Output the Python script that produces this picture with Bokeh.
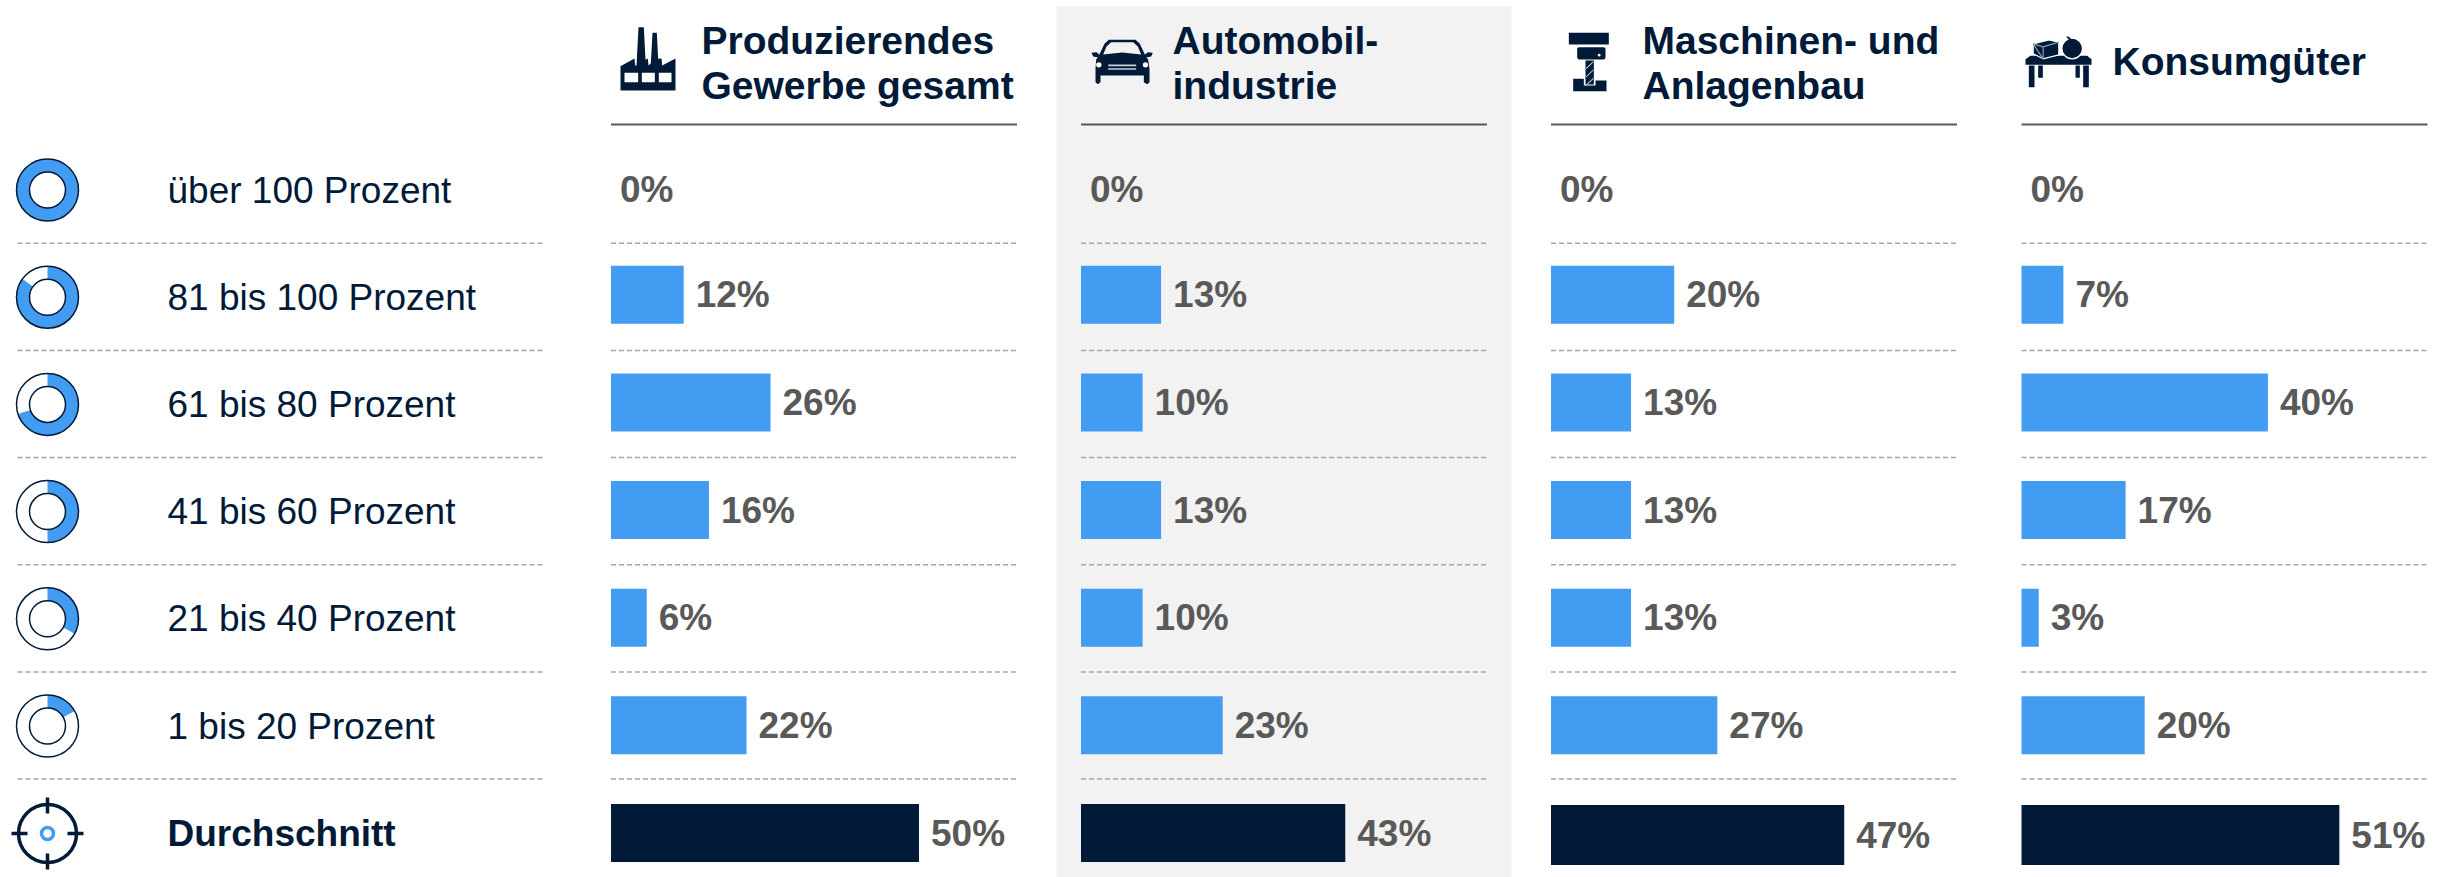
from bokeh.plotting import figure
from bokeh.embed import file_html
from bokeh.resources import INLINE
from bokeh.core.properties import value
from math import pi

# ---------- data ----------
row_labels = ["über 100 Prozent", "81 bis 100 Prozent", "61 bis 80 Prozent", "41 bis 60 Prozent",
              "21 bis 40 Prozent", "1 bis 20 Prozent", "Durchschnitt"]
# printed labels
produzierendes = [0, 12, 26, 16, 6, 22, 50]
automobil = [0, 13, 10, 13, 10, 23, 43]
maschinen = [0, 20, 13, 13, 13, 27, 47]
konsum = [0, 7, 40, 17, 3, 20, 51]
# bar lengths (the printed labels are rounded)
produzierendes_bar = [0, 11.8, 25.9, 15.9, 5.8, 22, 50]
automobil_bar = [0, 13, 10, 13, 10, 23, 42.9]
maschinen_bar = [0, 20, 13, 13, 13, 27, 47.6]
konsum_bar = [0, 6.8, 40, 16.9, 2.8, 20, 51.6]
headers = [["Produzierendes", "Gewerbe gesamt"], ["Automobil-", "industrie"],
           ["Maschinen- und", "Anlagenbau"], ["Konsumgüter"]]
legend_fill = [100, 85, 70, 50, 33, 17]

# ---------- layout ----------
NAVY = "#001a38"
BLUE = "#429df2"
GREY = "#595959"
DASH = "#a6a6a6"
FONT = value("Liberation Sans")
PX_PER_PCT = 6.16
col_x = [610.5, 1080.5, 1550.5, 2021]
col_w = 406
head_x = [701, 1172, 1642, 2112]
row_y = [189.5 + 107.2 * i for i in range(7)]
label_y = [190 + 107.1 * i for i in range(7)]
bar_y = [832.5 - 107.65 * (6 - i) for i in range(7)]
divider_y = [242.8 + 107.15 * i for i in range(6)]
BAR_H = 58

p = figure(width=2450, height=877, x_range=(0, 2450), y_range=(877, 0),
           output_backend="svg", toolbar_location=None, min_border=0,
           x_axis_location=None, y_axis_location=None, outline_line_color=None,
           background_fill_color="white", border_fill_color="white")
p.xgrid.visible = False
p.ygrid.visible = False

# grey highlight column
p.quad(left=[1056], right=[1511], top=[6], bottom=[877], fill_color="#f2f2f2", line_color=None)

# dashed separators + header rules
for y in divider_y:
    for x0, x1 in [(17, 545)] + [(c, c + col_w) for c in col_x]:
        p.line([x0, x1], [y, y], line_color=DASH, line_width=1.5, line_dash="5 3")
for c in col_x:
    p.line([c, c + col_w], [124, 124], line_color=GREY, line_width=2)

# row labels
for i, lab in enumerate(row_labels):
    p.text([167], [label_y[i]], text=[lab], text_font=FONT, text_font_size="37px",
           text_color=NAVY, text_baseline="middle", text_align="left",
           text_font_style="bold" if i == 6 else "normal")

# bars and value labels
columns = [(produzierendes, produzierendes_bar), (automobil, automobil_bar),
           (maschinen, maschinen_bar), (konsum, konsum_bar)]
for k, (c, (vals, lens)) in enumerate(zip(col_x, columns)):
    for i, (v, ln) in enumerate(zip(vals, lens)):
        right = c + ln * PX_PER_PCT
        yc = bar_y[i]
        h = BAR_H
        if i == 6 and k >= 2:
            yc += 2
            h = 60
        if v > 0:
            p.quad(left=[c], right=[right], top=[yc - h / 2], bottom=[yc + h / 2],
                   fill_color=NAVY if i == 6 else BLUE, line_color=None)
        ty = 188.5 if i == 0 else yc
        p.text([right + (12 if v > 0 else 9)], [ty], text=[f"{v}%"], text_font=FONT,
               text_font_size="37px", text_font_style="bold", text_color=GREY,
               text_baseline="middle", text_align="left")

# header text
for hx, lines in zip(head_x, headers):
    ys = [40, 85] if len(lines) == 2 else [61]
    for y, t in zip(ys, lines):
        p.text([hx], [y], text=[t], text_font=FONT, text_font_size="39px", text_font_style="bold",
               text_color=NAVY, text_baseline="middle", text_align="left")

# legend donuts
DX = 47
for i, f in enumerate(legend_fill):
    y = row_y[i]
    p.annular_wedge([DX], [y], inner_radius=18, outer_radius=31,
                    start_angle=pi / 2 - 2 * pi * f / 100 if f < 100 else 0,
                    end_angle=pi / 2 if f < 100 else 2 * pi,
                    fill_color=BLUE, line_color=None)
    p.circle([DX], [y], radius=31, fill_color=None, line_color=NAVY, line_width=1.5)
    p.circle([DX], [y], radius=18, fill_color=None, line_color=NAVY, line_width=1.5)

# crosshair icon
cy = 833
p.circle([DX], [cy], radius=29, fill_color=None, line_color=NAVY, line_width=3.5)
p.circle([DX], [cy], radius=6, fill_color="white", line_color=BLUE, line_width=3.5)
for xs, ys in [([DX - 36, DX - 20], [cy, cy]), ([DX + 20, DX + 36], [cy, cy]),
               ([DX, DX], [cy - 36, cy - 20]), ([DX, DX], [cy + 20, cy + 36])]:
    p.line(xs, ys, line_color=NAVY, line_width=3.5)

# header icons, drawn as shapes in local units of a third of a pixel
def poly(ox, oy, pts, color=NAVY, line=None):
    p.patch([ox + a / 3 for a, b in pts], [oy + b / 3 for a, b in pts], fill_color=color,
            line_color=line, line_width=1.2)

def box(ox, oy, x0, y0, x1, y1, color=NAVY):
    poly(ox, oy, [(x0, y0), (x1, y0), (x1, y1), (x0, y1)], color)

def disc(ox, oy, x, y, r, color=NAVY, line=None):
    p.circle([ox + x / 3], [oy + y / 3], radius=r / 3, fill_color=color, line_color=line, line_width=1.2)

# factory
o = (610, 20)
poly(*o, [(30, 210), (30, 137), (72, 114), (74, 135), (78, 135), (84, 20), (100, 20), (105, 118),
          (112, 114), (114, 135), (121, 128), (126, 37), (139, 37), (143, 115), (153, 114), (155, 135),
          (195, 114), (195, 210)])
for x0, x1 in [(42, 83), (94, 133), (145, 183)]:
    box(*o, x0, 157, x1, 185, "white")

# car
o = (1080, 20)
BG = "#f2f2f2"
poly(*o, [(85, 58), (165, 58), (178, 70), (192, 100), (203, 118), (207, 145), (207, 185), (200, 191),
          (190, 185), (190, 165), (60, 165), (60, 185), (52, 191), (45, 185), (45, 145), (47, 118),
          (58, 100), (72, 70)])
poly(*o, [(92, 65), (158, 65), (172, 78), (182, 102), (125, 96), (68, 102), (78, 78)], BG)
poly(*o, [(33, 97), (48, 95), (60, 105), (50, 110), (38, 108)])
poly(*o, [(217, 97), (202, 95), (190, 105), (200, 110), (212, 108)])
disc(*o, 55, 133, 8, "white")
disc(*o, 195, 133, 8, "white")
box(*o, 83, 132, 167, 137, "#c9ced6")
box(*o, 83, 143, 167, 148, "#c9ced6")

# milling machine
o = (1550, 20)
box(*o, 55, 37, 175, 72)
poly(*o, [(80, 84), (84, 80), (161, 80), (165, 84), (165, 112), (161, 117), (84, 117), (80, 112)])
disc(*o, 146, 104, 4, "white")
poly(*o, [(68, 175), (100, 175), (100, 195), (135, 195), (135, 180), (168, 180), (168, 212), (68, 212)])
box(*o, 105, 120, 130, 192)
for y in [130, 155, 180]:
    poly(*o, [(107, y + 12), (128, y - 8), (128, y - 4), (107, y + 16)], "#c9ced6")

# table with box and apple
o = (2015, 20)
poly(*o, [(45, 106), (215, 106), (228, 116), (228, 133), (30, 133), (30, 116)])
for x0, x1, y1 in [(40, 57, 200), (203, 220, 200), (68, 82, 172), (180, 193, 172)]:
    box(*o, x0, 135, x1, y1)
poly(*o, [(53, 70), (100, 58), (130, 65), (130, 103), (83, 115), (53, 100)], NAVY, "white")
poly(*o, [(53, 70), (83, 79), (130, 65), (83, 79), (83, 115)], NAVY, "#8c99aa")
disc(*o, 170, 84, 31, NAVY, "white")
poly(*o, [(152, 49), (158, 47), (172, 60), (165, 62)])

open("out.html", "w").write(file_html(p, INLINE))
